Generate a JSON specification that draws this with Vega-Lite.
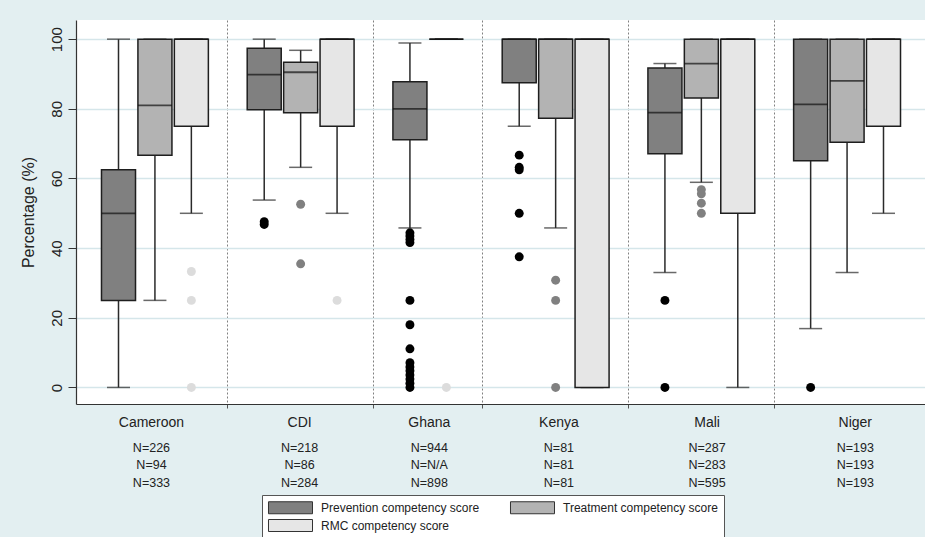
{
  "$schema": "https://vega.github.io/schema/vega-lite/v6.json",
  "background": "#e3eff1",
  "padding": {"left": 20, "top": 20, "right": 0, "bottom": 0},
  "spacing": 0,
  "bounds": "flush",
  "datasets": {
    "boxes": [
      {"country": "Cameroon", "series": "Prevention competency score", "box": "Cameroon/P", "lo": 0, "q1": 25, "median": 50, "q3": 62.5, "hi": 100},
      {"country": "Cameroon", "series": "Treatment competency score", "box": "Cameroon/T", "lo": 25, "q1": 66.7, "median": 81, "q3": 100, "hi": 100},
      {"country": "Cameroon", "series": "RMC competency score", "box": "Cameroon/R", "lo": 50, "q1": 75, "median": 100, "q3": 100, "hi": 100},
      {"country": "CDI", "series": "Prevention competency score", "box": "CDI/P", "lo": 53.8, "q1": 79.7, "median": 89.8, "q3": 97.4, "hi": 100},
      {"country": "CDI", "series": "Treatment competency score", "box": "CDI/T", "lo": 63.2, "q1": 78.9, "median": 90.5, "q3": 93.4, "hi": 96.8},
      {"country": "CDI", "series": "RMC competency score", "box": "CDI/R", "lo": 50, "q1": 75, "median": 100, "q3": 100, "hi": 100},
      {"country": "Ghana", "series": "Prevention competency score", "box": "Ghana/P", "lo": 45.8, "q1": 71.1, "median": 80, "q3": 87.8, "hi": 98.9},
      {"country": "Ghana", "series": "RMC competency score", "box": "Ghana/R", "lo": 100, "q1": 100, "median": 100, "q3": 100, "hi": 100},
      {"country": "Kenya", "series": "Prevention competency score", "box": "Kenya/P", "lo": 75, "q1": 87.5, "median": 100, "q3": 100, "hi": 100},
      {"country": "Kenya", "series": "Treatment competency score", "box": "Kenya/T", "lo": 45.8, "q1": 77.3, "median": 100, "q3": 100, "hi": 100},
      {"country": "Kenya", "series": "RMC competency score", "box": "Kenya/R", "lo": 0, "q1": 0, "median": 100, "q3": 100, "hi": 100},
      {"country": "Mali", "series": "Prevention competency score", "box": "Mali/P", "lo": 33, "q1": 67.1, "median": 78.9, "q3": 91.7, "hi": 93},
      {"country": "Mali", "series": "Treatment competency score", "box": "Mali/T", "lo": 58.9, "q1": 83.1, "median": 93, "q3": 100, "hi": 100},
      {"country": "Mali", "series": "RMC competency score", "box": "Mali/R", "lo": 0, "q1": 50, "median": 100, "q3": 100, "hi": 100},
      {"country": "Niger", "series": "Prevention competency score", "box": "Niger/P", "lo": 16.9, "q1": 65.1, "median": 81.3, "q3": 100, "hi": 100},
      {"country": "Niger", "series": "Treatment competency score", "box": "Niger/T", "lo": 33, "q1": 70.4, "median": 88, "q3": 100, "hi": 100},
      {"country": "Niger", "series": "RMC competency score", "box": "Niger/R", "lo": 50, "q1": 75, "median": 100, "q3": 100, "hi": 100}
    ],
    "outliers": [
      {"box": "Cameroon/R", "series": "RMC competency score", "value": 33.3},
      {"box": "Cameroon/R", "series": "RMC competency score", "value": 25},
      {"box": "Cameroon/R", "series": "RMC competency score", "value": 0},
      {"box": "CDI/P", "series": "Prevention competency score", "value": 47.6},
      {"box": "CDI/P", "series": "Prevention competency score", "value": 46.8},
      {"box": "CDI/T", "series": "Treatment competency score", "value": 52.6},
      {"box": "CDI/T", "series": "Treatment competency score", "value": 35.5},
      {"box": "CDI/R", "series": "RMC competency score", "value": 25},
      {"box": "Ghana/P", "series": "Prevention competency score", "value": 44.4},
      {"box": "Ghana/P", "series": "Prevention competency score", "value": 43.5},
      {"box": "Ghana/P", "series": "Prevention competency score", "value": 42.5},
      {"box": "Ghana/P", "series": "Prevention competency score", "value": 41.6},
      {"box": "Ghana/P", "series": "Prevention competency score", "value": 25},
      {"box": "Ghana/P", "series": "Prevention competency score", "value": 18},
      {"box": "Ghana/P", "series": "Prevention competency score", "value": 11.1},
      {"box": "Ghana/P", "series": "Prevention competency score", "value": 7.1},
      {"box": "Ghana/P", "series": "Prevention competency score", "value": 5.9},
      {"box": "Ghana/P", "series": "Prevention competency score", "value": 4.8},
      {"box": "Ghana/P", "series": "Prevention competency score", "value": 3.6},
      {"box": "Ghana/P", "series": "Prevention competency score", "value": 2.4},
      {"box": "Ghana/P", "series": "Prevention competency score", "value": 1.2},
      {"box": "Ghana/P", "series": "Prevention competency score", "value": 0},
      {"box": "Ghana/R", "series": "RMC competency score", "value": 0},
      {"box": "Kenya/P", "series": "Prevention competency score", "value": 66.7},
      {"box": "Kenya/P", "series": "Prevention competency score", "value": 63.2},
      {"box": "Kenya/P", "series": "Prevention competency score", "value": 62.5},
      {"box": "Kenya/P", "series": "Prevention competency score", "value": 50},
      {"box": "Kenya/P", "series": "Prevention competency score", "value": 37.5},
      {"box": "Kenya/T", "series": "Treatment competency score", "value": 30.8},
      {"box": "Kenya/T", "series": "Treatment competency score", "value": 25},
      {"box": "Kenya/T", "series": "Treatment competency score", "value": 0},
      {"box": "Mali/P", "series": "Prevention competency score", "value": 25},
      {"box": "Mali/P", "series": "Prevention competency score", "value": 0},
      {"box": "Mali/T", "series": "Treatment competency score", "value": 56.8},
      {"box": "Mali/T", "series": "Treatment competency score", "value": 55.6},
      {"box": "Mali/T", "series": "Treatment competency score", "value": 52.9},
      {"box": "Mali/T", "series": "Treatment competency score", "value": 50},
      {"box": "Niger/P", "series": "Prevention competency score", "value": 0}
    ],
    "counts": [
      {"country": "Cameroon", "series": "Prevention competency score", "n": "N=226"},
      {"country": "Cameroon", "series": "Treatment competency score", "n": "N=94"},
      {"country": "Cameroon", "series": "RMC competency score", "n": "N=333"},
      {"country": "CDI", "series": "Prevention competency score", "n": "N=218"},
      {"country": "CDI", "series": "Treatment competency score", "n": "N=86"},
      {"country": "CDI", "series": "RMC competency score", "n": "N=284"},
      {"country": "Ghana", "series": "Prevention competency score", "n": "N=944"},
      {"country": "Ghana", "series": "Treatment competency score", "n": "N=N/A"},
      {"country": "Ghana", "series": "RMC competency score", "n": "N=898"},
      {"country": "Kenya", "series": "Prevention competency score", "n": "N=81"},
      {"country": "Kenya", "series": "Treatment competency score", "n": "N=81"},
      {"country": "Kenya", "series": "RMC competency score", "n": "N=81"},
      {"country": "Mali", "series": "Prevention competency score", "n": "N=287"},
      {"country": "Mali", "series": "Treatment competency score", "n": "N=283"},
      {"country": "Mali", "series": "RMC competency score", "n": "N=595"},
      {"country": "Niger", "series": "Prevention competency score", "n": "N=193"},
      {"country": "Niger", "series": "Treatment competency score", "n": "N=193"},
      {"country": "Niger", "series": "RMC competency score", "n": "N=193"}
    ]
  },
  "vconcat": [
    {
      "width": 849,
      "height": 384,
      "view": {"fill": "white", "stroke": null},
      "encoding": {
        "x": {
          "field": "box",
          "type": "nominal",
          "title": null,
          "scale": {
            "type": "band",
            "domain": ["Cameroon/P", "Cameroon/T", "Cameroon/R", "sp1", "CDI/P", "CDI/T", "CDI/R", "sp2", "Ghana/P", "Ghana/R", "sp3", "Kenya/P", "Kenya/T", "Kenya/R", "sp4", "Mali/P", "Mali/T", "Mali/R", "sp5", "Niger/P", "Niger/T", "Niger/R"],
            "paddingInner": 0.066,
            "paddingOuter": 0.686,
            "align": 0.51
          },
          "axis": {
            "values": ["sp1", "sp2", "sp3", "sp4", "sp5"],
            "labels": false,
            "ticks": true,
            "tickSize": 4,
            "tickColor": "#555",
            "grid": true,
            "gridDash": [2, 2],
            "gridColor": "#808080",
            "gridWidth": 1,
            "domainColor": "#333",
            "domainWidth": 1.2,
            "bandPosition": 0.5,
            "title": null
          }
        }
      },
      "layer": [
        {
          "data": {"name": "boxes"},
          "mark": {"type": "rule", "color": "#2a2a2a", "strokeWidth": 1.5},
          "encoding": {
            "y": {
              "field": "lo",
              "type": "quantitative",
              "title": "Percentage (%)",
              "scale": {"domain": [-4.75, 105.5], "nice": false, "zero": false},
              "axis": {
                "values": [0, 20, 40, 60, 80, 100],
                "grid": true,
                "gridColor": "#d5e6ea",
                "gridWidth": 1.5,
                "tickSize": 8,
                "tickColor": "#333",
                "labelAngle": 270,
                "labelAlign": "center",
                "labelBaseline": "bottom",
                "labelFontSize": 15,
                "labelPadding": 3.5,
                "labelColor": "#222",
                "titleFontSize": 16,
                "titlePadding": 13,
                "titleColor": "#222",
                "titleFontWeight": "normal",
                "domainColor": "#333",
                "domainWidth": 1.2
              }
            },
            "y2": {"field": "hi"}
          }
        },
        {
          "data": {"name": "boxes"},
          "mark": {"type": "tick", "color": "#2a2a2a", "thickness": 1.5, "size": 23},
          "encoding": {"y": {"field": "lo", "type": "quantitative", "title": "Percentage (%)"}}
        },
        {
          "data": {"name": "boxes"},
          "mark": {"type": "tick", "color": "#2a2a2a", "thickness": 1.5, "size": 23},
          "encoding": {"y": {"field": "hi", "type": "quantitative", "title": "Percentage (%)"}}
        },
        {
          "data": {"name": "boxes"},
          "mark": {"type": "bar", "stroke": "#1e1e1e", "strokeWidth": 1.5},
          "encoding": {
            "y": {"field": "q1", "type": "quantitative", "title": "Percentage (%)"},
            "y2": {"field": "q3"},
            "fill": {
              "field": "series",
              "type": "nominal",
              "scale": {
                "domain": ["Prevention competency score", "Treatment competency score", "RMC competency score"],
                "range": ["#808080", "#b3b3b3", "#e6e6e6"]
              },
              "legend": {
                "title": null,
                "orient": "none",
                "legendX": 186,
                "legendY": 475,
                "direction": "horizontal",
                "columns": 2,
                "symbolType": "M-3.667,-1H3.667V1H-3.667Z",
                "symbolSize": 144,
                "symbolOffset": 16,
                "symbolStrokeColor": "#333",
                "symbolStrokeWidth": 1,
                "symbolOpacity": 1,
                "labelFont": "Liberation Sans",
                "labelFontSize": 12,
                "labelColor": "#222",
                "labelOffset": 24,
                "labelLimit": 300,
                "columnPadding": 28,
                "rowPadding": 1,
                "padding": 6,
                "strokeColor": "#555",
                "fillColor": "white"
              }
            }
          }
        },
        {
          "data": {"name": "boxes"},
          "mark": {"type": "tick", "color": "#111", "thickness": 1.8, "size": 34},
          "encoding": {"y": {"field": "median", "type": "quantitative", "title": "Percentage (%)"}}
        },
        {
          "data": {"name": "outliers"},
          "mark": {"type": "circle", "size": 80, "opacity": 1},
          "encoding": {
            "y": {"field": "value", "type": "quantitative", "title": "Percentage (%)"},
            "color": {
              "condition": [
                {"test": "datum.series === 'Prevention competency score'", "value": "#000000"},
                {"test": "datum.series === 'Treatment competency score'", "value": "#808080"}
              ],
              "value": "#dcdcdc"
            }
          }
        }
      ]
    },
    {
      "width": 849,
      "height": 105,
      "view": {"stroke": null},
      "encoding": {
        "x": {
          "field": "country",
          "type": "nominal",
          "scale": {
            "type": "band",
            "domain": ["c1", "Cameroon", "c3", "sp1", "d1", "CDI", "d3", "sp2", "Ghana", "g2", "sp3", "k1", "Kenya", "k3", "sp4", "m1", "Mali", "m3", "sp5", "n1", "Niger", "n3"],
            "paddingInner": 0,
            "paddingOuter": 0.46,
            "align": 0.584
          },
          "axis": null
        },
        "y": {
          "field": "series",
          "type": "ordinal",
          "scale": {"type": "band", "domain": ["name", "Prevention competency score", "Treatment competency score", "RMC competency score"], "paddingInner": 0, "paddingOuter": 1.2},
          "axis": null
        }
      },
      "layer": [
        {
          "data": {"name": "counts"},
          "transform": [{"filter": "datum.series === 'Prevention competency score' && datum.country !== 'Ghana'"}],
          "mark": {"type": "text", "fontSize": 14, "baseline": "bottom", "color": "#222", "font": "Liberation Sans"},
          "encoding": {
            "y": {"datum": "name", "type": "ordinal"},
            "text": {"field": "country"}
          }
        },
        {
          "data": {"name": "counts"},
          "transform": [{"filter": "datum.series === 'Prevention competency score' && datum.country === 'Ghana'"}],
          "mark": {"type": "text", "fontSize": 14, "baseline": "bottom", "color": "#222", "font": "Liberation Sans"},
          "encoding": {
            "x": {"field": "country", "type": "nominal", "bandPosition": 1},
            "y": {"datum": "name", "type": "ordinal"},
            "text": {"field": "country"}
          }
        },
        {
          "data": {"name": "counts"},
          "transform": [{"filter": "datum.country !== 'Ghana'"}],
          "mark": {"type": "text", "fontSize": 12.5, "baseline": "middle", "color": "#222", "font": "Liberation Sans"},
          "encoding": {
            "text": {"field": "n"}
          }
        },
        {
          "data": {"name": "counts"},
          "transform": [{"filter": "datum.country === 'Ghana'"}],
          "mark": {"type": "text", "fontSize": 12.5, "baseline": "middle", "color": "#222", "font": "Liberation Sans"},
          "encoding": {
            "x": {"field": "country", "type": "nominal", "bandPosition": 1},
            "text": {"field": "n"}
          }
        }
      ]
    }
  ],
  "resolve": {"scale": {"x": "independent", "y": "independent"}},
  "config": {
    "font": "Liberation Sans",
    "view": {"stroke": null},
    "axis": {"labelFont": "Liberation Sans", "titleFont": "Liberation Sans"}
  }
}
